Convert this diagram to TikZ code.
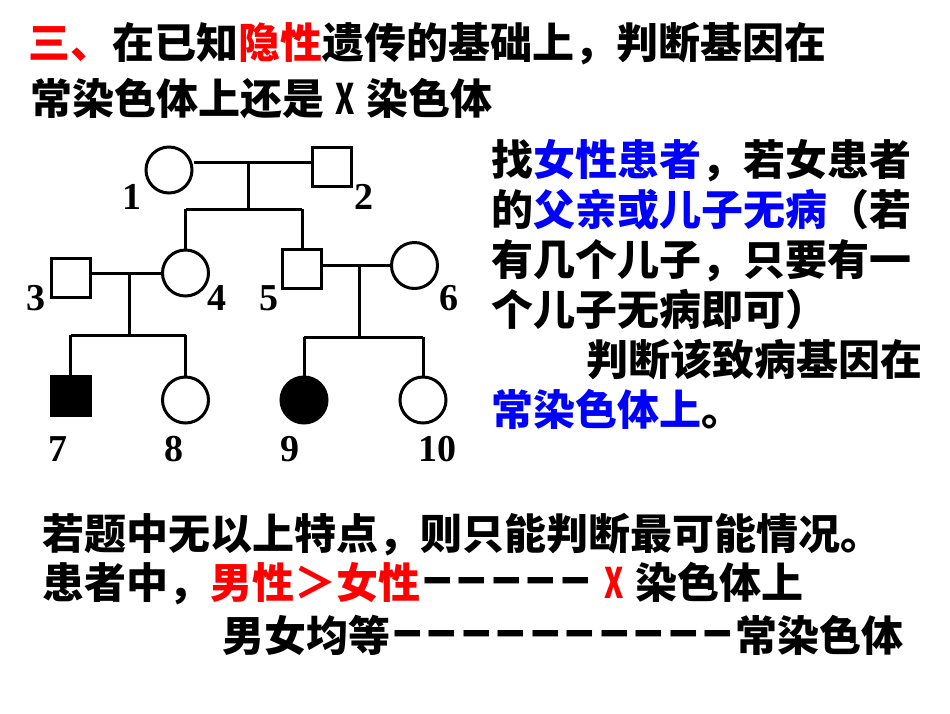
\documentclass[tikz,border=0pt]{standalone}
\usepackage{fontspec}
\usepackage{graphicx}
\newfontfamily\cjk{Noto Sans CJK SC}
\newfontfamily\numf{Liberation Serif}
\newfontfamily\dashf{DejaVu Sans}
\definecolor{myred}{RGB}{255,0,0}
\definecolor{myblue}{RGB}{0,0,255}
\newcommand\dsh{\makebox[34.5pt]{\raisebox{4.5pt}{\dashf\bfseries\scalebox{0.68}[1.2]{—}}}}
\newcommand\xch{\makebox[42pt]{\scalebox{0.7}[1]{X}}}
\begin{document}
\begin{tikzpicture}[x=1pt,y=-1pt,line width=3pt,
  fem/.style={circle,draw,minimum size=46pt,inner sep=0pt},
  mal/.style={rectangle,draw,minimum size=39pt,inner sep=0pt},
  aff/.style={fill=black},
  num/.style={font=\numf\bfseries\fontsize{38}{38}\selectfont,inner sep=0pt},
  txt/.style={font=\cjk\bfseries\fontsize{42}{42}\selectfont,inner sep=0pt,anchor=base west}]
\useasboundingbox (0,0) rectangle (950,713);
\fill[white] (0,0) rectangle (950,713);

% title
\node[txt] (t1) at (27,58) {\textcolor{myred}{三、}在已知\textcolor{myred}{隐性}遗传的基础上，判断基因在};
\node[txt] (t2) at (29,114) {常染色体上还是\xch 染色体};

% right block
\node[txt] (r1) at (490,175.5) {找\textcolor{myblue}{女性患者}，若女患者};
\node[txt] (r2) at (490,225.5) {的\textcolor{myblue}{父亲或儿子无病}（若};
\node[txt] (r3) at (490,275.5) {有几个儿子，只要有一};
\node[txt] (r4) at (490,325.5) {个儿子无病即可）};
\node[txt] (r5) at (585,375.5) {判断该致病基因在};
\node[txt] (r6) at (490,425.5) {\textcolor{myblue}{常染色体上}。};

% bottom block
\node[txt] (b1) at (41,549.5) {若题中无以上特点，则只能判断最可能情况。};
\node[txt] (b2) at (41,598.5) {患者中，\textcolor{myred}{男性＞女性}\dsh\dsh\dsh\dsh\dsh\textcolor{myred}{\xch}染色体上};
\node[txt] (b3) at (221,651.5) {男女均等\dsh\dsh\dsh\dsh\dsh\dsh\dsh\dsh\dsh\dsh 常染色体};

% pedigree individuals
\node[fem] (p1) at (169,170) {};
\node[mal] (p2) at (332,166.5) {};
\node[mal] (p3) at (70.5,277.5) {};
\node[fem] (p4) at (185.5,273) {};
\node[mal] (p5) at (302,269) {};
\node[fem] (p6) at (414.5,265.5) {};
\node[mal,aff] (p7) at (70.5,396) {};
\node[fem] (p8) at (185.5,400) {};
\node[fem,aff] (p9) at (304,400) {};
\node[fem] (p10) at (423,400) {};

% labels
\node[num] (l1) at (132,197) {1};
\node[num] (l2) at (364,197) {2};
\node[num] (l3) at (36.5,298) {3};
\node[num] (l4) at (216.5,298) {4};
\node[num] (l5) at (268.5,298) {5};
\node[num] (l6) at (449,298) {6};
\node[num] (l7) at (57.5,449) {7};
\node[num] (l8) at (174,449) {8};
\node[num] (l9) at (290,449) {9};
\node[num] (l10) at (437.5,449) {10};

% connection points
\coordinate (m12) at (248,162);
\coordinate (s12) at (248,209);
\coordinate (m34) at (129,273);
\coordinate (s34) at (129,335);
\coordinate (m56) at (359,265);
\coordinate (s56) at (359,337);

% generation I
\draw (p1.east |- m12) -- (p2.west |- m12);
\draw (m12) -- (s12);
\draw (p4.north |- s12) -- (p5.north |- s12);
\draw (p4.north |- s12) -- (p4.north);
\draw (p5.north |- s12) -- (p5.north);
% 3 x 4
\draw (p3.east |- m34) -- (p4.west |- m34);
\draw (m34) -- (s34);
\draw (p7.north |- s34) -- (p8.north |- s34);
\draw (p7.north |- s34) -- (p7.north);
\draw (p8.north |- s34) -- (p8.north);
% 5 x 6
\draw (p5.east |- m56) -- (p6.west |- m56);
\draw (m56) -- (s56);
\draw (p9.north |- s56) -- (p10.north |- s56);
\draw (p9.north |- s56) -- (p9.north);
\draw (p10.north |- s56) -- (p10.north);
\end{tikzpicture}
\end{document}
